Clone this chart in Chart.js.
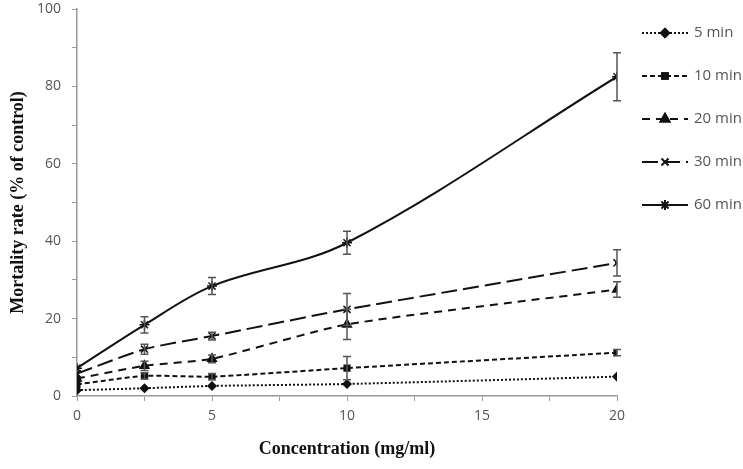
<!DOCTYPE html>
<html><head><meta charset="utf-8">
<script src="https://cdn.jsdelivr.net/npm/chart.js@4/dist/chart.umd.min.js"></script>
<style>html,body{margin:0;padding:0;background:#fff;}#wrap{width:743px;height:469px;position:relative;}</style>
</head><body><div id="wrap"><canvas id="c" width="743" height="469"></canvas></div>
<script>
const concentrations = [0, 2.5, 5, 10, 20];
const seriesNames = ['5 min', '10 min', '20 min', '30 min', '60 min'];
const min5  = [1.5, 2.0, 2.6, 3.1, 5.0];
const min10 = [3.0, 5.2, 5.0, 7.2, 11.2];
const min20 = [4.5, 7.8, 9.6, 18.5, 27.5];
const min30 = [5.8, 12.1, 15.5, 22.4, 34.4];
const min60 = [7.2, 18.4, 28.4, 39.6, 82.5];
const err5  = [0, 0, 0, 0, 0];
const err10 = [0, 0.8, 0.8, 3.0, 0.8];
const err20 = [0, 1.2, 1.0, 3.9, 2.0];
const err30 = [0, 1.3, 1.0, 4.1, 3.4];
const err60 = [0, 2.1, 2.2, 3.0, 6.2];
const yTicks = [0, 20, 40, 60, 80, 100];
const xTicks = [0, 5, 10, 15, 20];

const INK = '#111111';
const styles = [
  {dash:[2,2], point:'rectRot', r:4},
  {dash:[5,3], point:'rect', r:4},
  {dash:[8,6], point:'triangle', r:5},
  {dash:[16,6], point:'crossRot', r:5},
  {dash:[], point:'star', r:5}
];
const values = [min5, min10, min20, min30, min60];
const errors = [err5, err10, err20, err30, err60];

const datasets = values.map((v, i) => ({
  label: seriesNames[i],
  data: concentrations.map((x, j) => ({x: x, y: v[j]})),
  errs: errors[i],
  borderColor: INK,
  backgroundColor: INK,
  borderWidth: 2,
  borderDash: styles[i].dash,
  pointStyle: styles[i].point,
  pointRadius: styles[i].r,
  pointBorderWidth: 1.5,
  pointBorderColor: INK,
  pointBackgroundColor: INK,
  tension: i === 4 ? 0.35 : 0.2,
  fill: false
}));

const errorBars = {
  id: 'errorBars',
  afterDatasetsDraw(chart) {
    const ctx = chart.ctx, xs = chart.scales.x, ys = chart.scales.y;
    ctx.save();
    ctx.strokeStyle = '#555';
    ctx.lineWidth = 1.5;
    ctx.setLineDash([]);
    chart.data.datasets.forEach(ds => {
      ds.data.forEach((p, j) => {
        const e = ds.errs[j];
        if (!e) return;
        const px = xs.getPixelForValue(p.x);
        const top = ys.getPixelForValue(p.y + e);
        const bot = ys.getPixelForValue(p.y - e);
        ctx.beginPath();
        ctx.moveTo(px, top); ctx.lineTo(px, bot);
        ctx.moveTo(px - 4, top); ctx.lineTo(px + 4, top);
        ctx.moveTo(px - 4, bot); ctx.lineTo(px + 4, bot);
        ctx.stroke();
      });
    });
    ctx.restore();
  }
};

const legendPlugin = {
  id: 'sideLegend',
  afterDraw(chart) {
    const ctx = chart.ctx;
    ctx.save();
    chart.data.datasets.forEach((ds, i) => {
      const y = 33 + i * 43;
      ctx.strokeStyle = INK;
      ctx.lineWidth = 2;
      ctx.setLineDash(ds.borderDash);
      ctx.beginPath();
      ctx.moveTo(642, y); ctx.lineTo(688, y);
      ctx.stroke();
      ctx.setLineDash([]);
      Chart.helpers.drawPoint(ctx, {pointStyle: ds.pointStyle, radius: ds.pointRadius, borderWidth: 1.5, rotation: 0}, 665, y);
      ctx.fillStyle = INK;
      if (['rectRot','rect','triangle'].includes(ds.pointStyle)) {
        ctx.beginPath();
        Chart.helpers.drawPoint(ctx, {pointStyle: ds.pointStyle, radius: ds.pointRadius, borderWidth: 1.5, rotation: 0}, 665, y);
        ctx.fill();
      }
      ctx.fillStyle = '#555';
      ctx.font = '15px "Open Sans", "Liberation Sans", sans-serif';
      ctx.textBaseline = 'middle';
      ctx.textAlign = 'left';
      ctx.fillText(ds.label, 694, y);
    });
    ctx.restore();
  }
};

new Chart(document.getElementById('c'), {
  type: 'line',
  data: {datasets: datasets},
  options: {
    responsive: false,
    animation: false,
    layout: {padding: {top: 9, right: 126, left: 0, bottom: 0}},
    plugins: {legend: {display: false}, tooltip: {enabled: false}},
    scales: {
      x: {
        type: 'linear', min: 0, max: 20,
        afterFit(s) { s.height = 73; s.paddingLeft = 0; s.paddingRight = 0; },
        ticks: {
          stepSize: 2.5, autoSkip: false, maxRotation: 0,
          color: '#555', font: {family: '"Open Sans", "Liberation Sans", sans-serif', size: 14},
          padding: 7,
          callback: v => xTicks.includes(v) ? String(v) : ''
        },
        grid: {display: true, drawOnChartArea: false, drawTicks: true, tickLength: 5, color: '#999'},
        border: {display: true, color: '#999', width: 1.5},
        title: {display: true, text: 'Concentration (mg/ml)', color: INK,
          font: {family: '"Liberation Serif", "Times New Roman", serif', size: 18, weight: 'bold'}, padding: {top: 4, bottom: 9}}
      },
      y: {
        type: 'linear', min: 0, max: 100,
        afterFit(s) { s.width = 77; s.paddingTop = 0; s.paddingBottom = 0; },
        ticks: {
          stepSize: 10, autoSkip: false,
          color: '#555', font: {family: '"Open Sans", "Liberation Sans", sans-serif', size: 14},
          padding: 11,
          callback: v => yTicks.includes(v) ? String(v) : ''
        },
        grid: {display: true, drawOnChartArea: false, drawTicks: true, tickLength: 5, color: '#999'},
        border: {display: true, color: '#999', width: 1.5},
        title: {display: true, text: 'Mortality rate (% of control)', color: INK,
          font: {family: '"Liberation Serif", "Times New Roman", serif', size: 18, weight: 'bold'}, padding: {top: 8, bottom: 0}}
      }
    }
  },
  plugins: [errorBars, legendPlugin]
});
</script></body></html>
